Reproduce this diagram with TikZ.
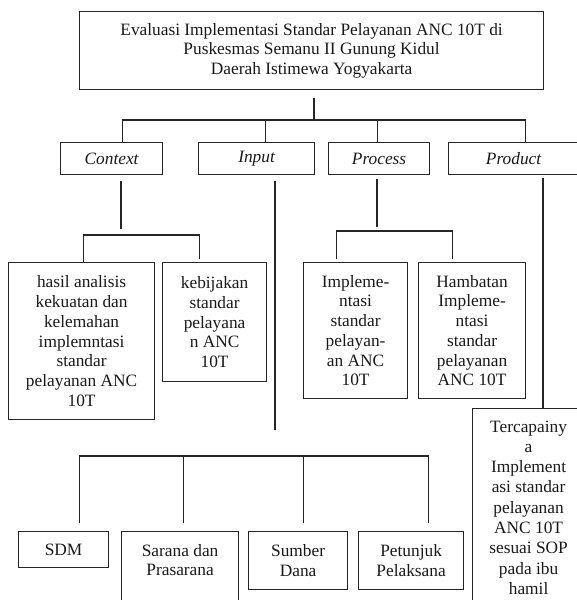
\documentclass[tikz,border=0pt]{standalone}
\usepackage{fontspec}
\setmainfont{Liberation Serif}
\usetikzlibrary{positioning}
\newdimen\pxu \pxu=0.03cm
\tikzset{
  box/.style={draw=black!85, line width=1pt, anchor=north west, inner sep=0pt,
    align=center, text=black!90, font=\fontsize{14.8}{16.8}\selectfont},
  wd/.style={minimum width=#1\pxu},
  ht/.style={minimum height=#1\pxu},
  part/.style={box, font=\fontsize{14.8}{16.8}\selectfont\itshape},
  txt/.style={inner sep=0pt, align=center, text=black!90, font=\fontsize{14.8}{16.8}\selectfont},
  link/.style={draw=black!85, line width=1pt},
}
\begin{document}
\begin{tikzpicture}[x=0.03cm, y=-0.03cm]
\useasboundingbox (0,0) rectangle (576,600);

% top box
\node[box, wd=464, ht=78] (main) at (79,11)
  {Evaluasi Implementasi Standar Pelayanan ANC 10T di\\Puskesmas Semanu II Gunung Kidul\\Daerah Istimewa Yogyakarta};

% CIPP parts
\node[part, wd=102, ht=32] (context) at (60,142) {Context};
\node[part, wd=116, ht=32] (input)   at (198,142) {Input};
\node[part, wd=101, ht=32] (process) at (328,142) {Process};
\node[part, wd=130, ht=32] (product) at (448,142) {Product};

% context
\node[box, wd=146, ht=157] (hasil) at (8,262)
  {hasil analisis\\kekuatan dan\\kelemahan\\implemntasi\\standar\\pelayanan ANC\\10T};
\node[box, wd=104, ht=119] (kebijakan) at (162,262)
  {kebijakan\\standar\\pelayana\\n ANC\\10T};

% process
\node[box, wd=104, ht=136] (implem) at (303,262)
  {Impleme-\\ntasi\\standar\\pelayan-\\an ANC\\10T};
\node[box, wd=107, ht=136] (hambatan) at (418,262)
  {Hambatan\\Impleme-\\ntasi\\standar\\pelayanan\\ANC 10T};

% product
\node[box, wd=112, ht=198, font=\fontsize{14.8}{17.3}\selectfont] (tercapai) at (472,408)
  {Tercapainy\\a\\Implement\\asi standar\\pelayanan\\ANC 10T\\sesuai SOP\\pada ibu\\hamil};

% input
\node[box, wd=90, ht=36]  (sdm)      at (18,531)  {SDM};
\node[box, wd=117, ht=90] (sarana)   at (121,531) {};
\node[txt, below=13\pxu of sarana.north] (saranatxt) {Sarana dan\\Prasarana};
\node[box, wd=99, ht=58]  (sumber)   at (248,531) {Sumber\\Dana};
\node[box, wd=105, ht=58] (petunjuk) at (358,531) {Petunjuk\\Pelaksana};

% junctions
\coordinate (bus)     at (314,120);
\coordinate (cbus)    at (121,235);
\coordinate (pbus)    at (377,231);
\coordinate (ibus)    at (275,456);
\coordinate (prodout) at (543,178);

\draw[link, shorten <=8\pxu] (main.south -| bus) -- (bus);
\draw[link] ([xshift=11\pxu]context.north) |- (bus) -| ([xshift=12\pxu]product.north);
\draw[link] ([xshift=9\pxu]input.north) |- (bus);
\draw[link] ([xshift=-1.5\pxu]process.north) |- (bus);

\draw[link, shorten <=6\pxu, shorten >=6\pxu] (context.south -| cbus) -- (cbus);
\draw[link] ([xshift=2\pxu]hasil.north) |- (cbus) -| ([xshift=-15\pxu,yshift=3\pxu]kebijakan.north);

\draw[link, shorten <=4\pxu, shorten >=4\pxu] (process.south -| pbus) -- (pbus);
\draw[link] ([xshift=-19\pxu,yshift=3\pxu]implem.north) |- (pbus) -| ([xshift=-19.5\pxu,yshift=3\pxu]hambatan.north);

\draw[link, shorten <=6\pxu, shorten >=26\pxu] (input.south -| ibus) -- (ibus);
\draw[link] ([xshift=16\pxu,yshift=8\pxu]sdm.north) |- (ibus) -| ([xshift=17.5\pxu,yshift=8\pxu]petunjuk.north);
\draw[link] ([xshift=3.5\pxu,yshift=8\pxu]sarana.north) |- (ibus);
\draw[link] ([xshift=5.5\pxu,yshift=8\pxu]sumber.north) |- (ibus);

\draw[link] (prodout) -- (tercapai.north -| prodout);

\end{tikzpicture}
\end{document}
